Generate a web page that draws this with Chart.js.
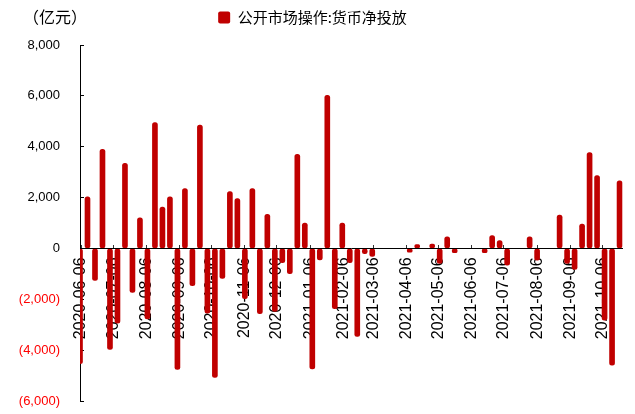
<!DOCTYPE html>
<html>
<head>
<meta charset="utf-8">
<script src="https://cdn.jsdelivr.net/npm/chart.js@4/dist/chart.umd.min.js"></script>
<style>
  body { margin: 0; background: #fff; }
  #wrap { width: 635px; height: 414px; }
</style>
</head>
<body>
<div id="wrap"><canvas id="mainChart" width="635" height="414"></canvas></div>
<script>
// weekly dates (Fridays)
const weekDates = [
  '2020-06-05','2020-06-12','2020-06-19','2020-06-26','2020-07-03','2020-07-10','2020-07-17','2020-07-24','2020-07-31',
  '2020-08-07','2020-08-14','2020-08-21','2020-08-28','2020-09-04','2020-09-11','2020-09-18','2020-09-25',
  '2020-10-02','2020-10-09','2020-10-16','2020-10-23','2020-10-30','2020-11-06','2020-11-13','2020-11-20','2020-11-27',
  '2020-12-04','2020-12-11','2020-12-18','2020-12-25',
  '2021-01-01','2021-01-08','2021-01-15','2021-01-22','2021-01-29','2021-02-05','2021-02-12','2021-02-19','2021-02-26',
  '2021-03-05','2021-03-12','2021-03-19','2021-03-26','2021-04-02','2021-04-09','2021-04-16','2021-04-23','2021-04-30',
  '2021-05-07','2021-05-14','2021-05-21','2021-05-28','2021-06-04','2021-06-11','2021-06-18','2021-06-25',
  '2021-07-02','2021-07-09','2021-07-16','2021-07-23','2021-07-30','2021-08-06','2021-08-13','2021-08-20','2021-08-27',
  '2021-09-03','2021-09-10','2021-09-17','2021-09-24','2021-10-01','2021-10-08','2021-10-15','2021-10-22'
]
// 公开市场操作:货币净投放 (亿元)
const netInjection = [
  -4530, 2030, -1260, 3900, -3970, -2940, 3350, -1730, 1200,
  -2770, 4950, 1630, 2030, -4760, 2350, -1460, 4850,
  -2550, -5070, -1180, 2240, 1960, -1980, 2350, -2570, 1340,
  -2480, -560, -990, 3700,
  1000, -4740, -450, 6020, -2370, 1000, -560, -3460, -210,
  -310, null, null, null, null, -150, 150, null, 170,
  -590, 460, -170, null, null, null, -170, 510,
  310, -660, null, null, 460, -460, null, null, 1310,
  -590, -830, 960, 3770, 2860, -2820, -4590, 2660
]
const monthLabels = [
  '2020-06-06','2020-07-06','2020-08-06','2020-09-06','2020-10-06','2020-11-06','2020-12-06',
  '2021-01-06','2021-02-06','2021-03-06','2021-04-06','2021-05-06','2021-06-06','2021-07-06',
  '2021-08-06','2021-09-06','2021-10-06'
]
const yTicks = [-6000, -4000, -2000, 0, 2000, 4000, 6000, 8000]
const axisStart = '2020-06-05'
const axisEnd = '2021-10-25'

const DAY = 86400000
function dayOf(s) {
  return (Date.parse(s) - Date.parse(axisStart)) / DAY
}

const points = weekDates.map((d, i) => ({ x: dayOf(d), y: netInjection[i] }))
const monthTicks = monthLabels.map(dayOf)

function fmt(v) {
  const s = Math.abs(v).toLocaleString('en-US')
  return v < 0 ? '(' + s + ')' : s
}

const FONT = '"Liberation Sans", Arial, sans-serif'
const CJK = '"Noto Sans CJK SC", sans-serif'

const unitLabel = {
  id: 'unitLabel',
  afterInit(chart) {
    const fit = chart.legend.fit
    chart.legend.fit = function () {
      fit.call(this)
      this.height += 10
    }
  },
  afterDraw(chart) {
    const ctx = chart.ctx
    ctx.save()
    ctx.font = '16px ' + CJK
    ctx.fillStyle = '#000'
    ctx.textBaseline = 'middle'
    ctx.fillText('（亿元）', 23, 17)
    ctx.restore()
  }
}

const ctx = document.getElementById('mainChart').getContext('2d')
const mainChart = new Chart(ctx, {
  type: 'bar',
  data: {
    datasets: [{
      label: '公开市场操作:货币净投放',
      data: points,
      backgroundColor: '#C00000',
      borderWidth: 0,
      barThickness: 5,
      borderRadius: 3,
      borderSkipped: false,
      clip: 0
    }]
  },
  options: {
    responsive: false,
    animation: false,
    layout: { padding: { left: 0, right: 10, top: 0, bottom: 13 } },
    plugins: {
      tooltip: { enabled: false },
      legend: {
        position: 'top',
        labels: {
          boxWidth: 12,
          boxHeight: 12,
          useBorderRadius: true,
          borderRadius: 2,
          padding: 10,
          color: '#000',
          font: { family: CJK, size: 15 }
        }
      }
    },
    scales: {
      x: {
        type: 'linear',
        position: { y: 0 },
        z: 1,
        min: dayOf(axisStart),
        max: dayOf(axisEnd),
        offset: false,
        afterBuildTicks: (scale) => {
          scale.ticks = monthTicks.map(v => ({ value: v }))
        },
        ticks: {
          autoSkip: false,
          minRotation: 90,
          maxRotation: 90,
          padding: 13,
          color: '#000',
          font: { family: FONT, size: 16 },
          callback: (v, i) => monthLabels[i]
        },
        grid: { display: true, drawOnChartArea: false, tickLength: -4, color: '#333', offset: false },
        border: { display: true, color: '#000', width: 1, z: 1 }
      },
      y: {
        min: -6000,
        max: 8000,
        afterBuildTicks: (scale) => {
          scale.ticks = yTicks.map(v => ({ value: v }))
        },
        afterFit: (scale) => {
          scale.width = 80
          scale.paddingTop = 8
          scale.paddingBottom = 8
        },
        ticks: {
          padding: 24,
          font: { family: FONT, size: 13 },
          color: (c) => (c.tick && c.tick.value < 0) ? '#FF0000' : '#000',
          callback: (v) => fmt(v)
        },
        grid: { display: true, drawOnChartArea: false, tickLength: -4, color: '#000' },
        border: { display: true, color: '#000', width: 1 }
      }
    }
  },
  plugins: [unitLabel]
})
</script>
</body>
</html>
